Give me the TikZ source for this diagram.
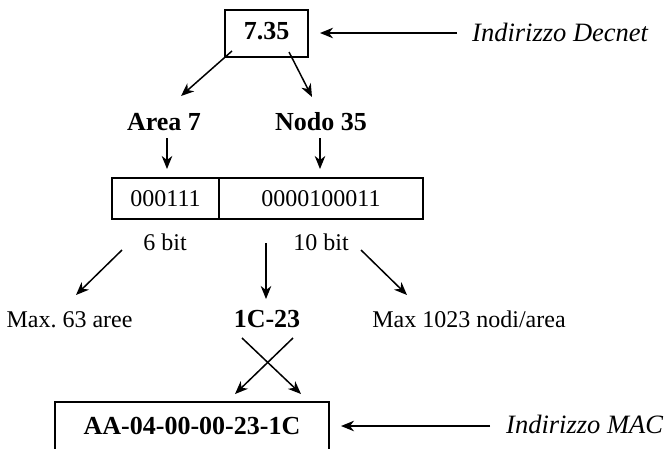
\documentclass[tikz,border=0pt]{standalone}
\usepackage{fontspec}
\setmainfont{Liberation Serif}
\usetikzlibrary{arrows.meta}
\frenchspacing
\tikzset{
  arr/.style={line width=1.5pt, -{Stealth[length=13pt,width=10.5pt,inset=4pt]}},
  boxx/.style={draw, line width=2pt, inner sep=0pt},
  bl/.style={font=\fontsize{26}{30}\selectfont\bfseries, inner sep=0pt},
  rg/.style={font=\fontsize{24}{28}\selectfont, inner sep=0pt},
  itl/.style={font=\fontsize{26.5}{30}\selectfont\itshape, inner sep=0pt},
}
\begin{document}
\begin{tikzpicture}[x=1pt,y=-1pt]
\useasboundingbox (0,0) rectangle (666,448);
\clip (0,0) rectangle (666,448);
% boxes
\node[boxx, bl, minimum width=83pt, minimum height=47pt, text height=17.6pt, text depth=6.6pt] (b735) at (266.5,33.5) {7.35};
\node[boxx, rg, minimum width=107pt, minimum height=41pt, text height=16.2pt, text depth=0pt] (cellA) at (165.5,198.5) {000111};
\node[boxx, rg, minimum width=204pt, minimum height=41pt, text height=16.2pt, text depth=0pt] (cellB) at (321,198.5) {0000100011};
\node[boxx, bl, minimum width=274pt, minimum height=50pt, text height=17.6pt, text depth=3.6pt] (mac) at (192,427) {AA-04-00-00-23-1C};
% texts
\node[itl, anchor=base west] (dec) at (472,41) {Indirizzo Decnet};
\node[itl, anchor=base west] (macl) at (506,433) {Indirizzo MAC};
\node[bl, anchor=base] (area) at (164,130) {Area 7};
\node[bl, anchor=base] (nodo) at (321,130) {Nodo 35};
\node[rg, anchor=base] (b6) at (165,250) {6 bit};
\node[rg, anchor=base] (b10) at (321,250) {10 bit};
\node[rg, anchor=base] (max63) at (69.5,327) {Max. 63 aree};
\node[bl, anchor=base] (c123) at (267,327) {1C-23};
\node[rg, anchor=base] (max1023) at (469,327) {Max 1023 nodi/area};
% arrows
\draw[arr] ([shift={(-15,-8)}]dec.base west) -- ([shift={(11,-0.5)}]b735.east);
\draw[arr] ([shift={(8,-7)}]b735.south west) -- ([shift={(17,-34)}]area.base);
\draw[arr] ([shift={(22.5,-6)}]b735.south) -- ([shift={(-9,-33)}]nodo.base);
\draw[arr] ([shift={(3,8)}]area.base) -- ([shift={(1.5,-8)}]cellA.north);
\draw[arr] ([shift={(-1,8)}]nodo.base) -- ([shift={(-1,-8)}]cellB.north);
\draw[arr] ([shift={(-43,0)}]b6.base) -- ([shift={(6.5,-32)}]max63.base);
\draw[arr] ([shift={(-1,-84)}]c123.base) -- ([shift={(-1,-28)}]c123.base);
\draw[arr] ([shift={(40,0)}]b10.base) -- ([shift={(-62,-32)}]max1023.base);
\draw[arr] ([shift={(-25,11)}]c123.base) -- ([shift={(-29,-7)}]mac.north east);
\draw[arr] ([shift={(26,11)}]c123.base) -- ([shift={(43,-7)}]mac.north);
\draw[arr] ([shift={(-16,-7)}]macl.base west) -- ([shift={(11,-1)}]mac.east);
\end{tikzpicture}
\end{document}
